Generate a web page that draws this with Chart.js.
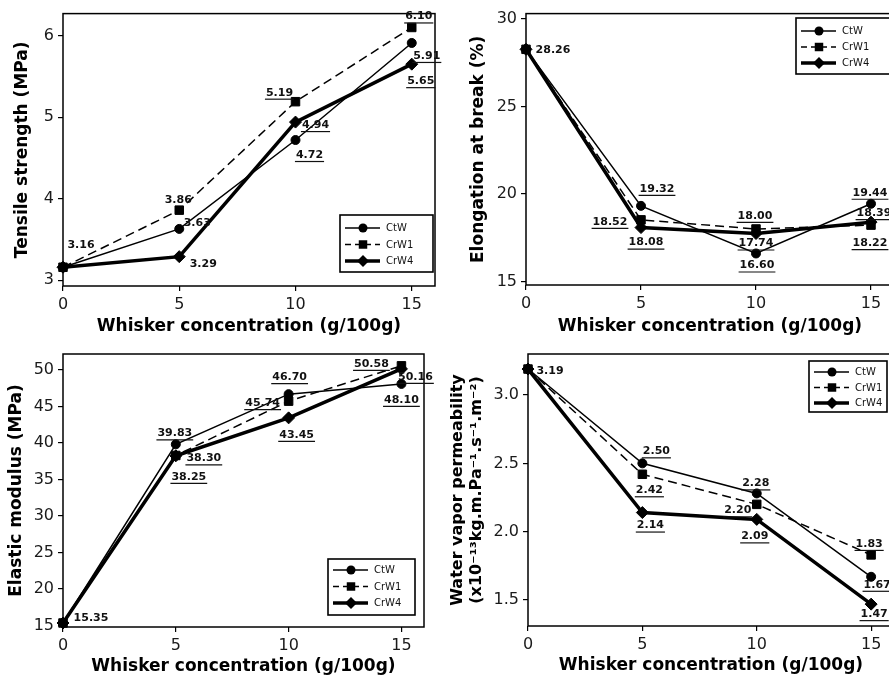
<!DOCTYPE html>
<html>
<head>
<meta charset="utf-8">
<script src="https://cdn.jsdelivr.net/npm/chart.js@4.4.1/dist/chart.umd.min.js"></script>
<style>
  body { margin: 0; width: 889px; height: 678px; overflow: hidden; background: #fff; position: relative; }
  canvas { position: absolute; }
</style>
</head>
<body>
<canvas id="tensile" width="445" height="340" style="left:0;top:0"></canvas>
<canvas id="elong" width="460" height="340" style="left:445px;top:0"></canvas>
<canvas id="modulus" width="445" height="338" style="left:0;top:340px"></canvas>
<canvas id="wvp" width="460" height="338" style="left:445px;top:340px"></canvas>
<script>
// whisker concentration (g/100g)
const conc = [0, 5, 10, 15]
const names = ['CtW', 'CrW1', 'CrW4']

const tensileCtW = [3.16, 3.63, 4.72, 5.91]
const tensileCrW1 = [3.16, 3.86, 5.19, 6.10]
const tensileCrW4 = [3.16, 3.29, 4.94, 5.65]

const elongCtW = [28.26, 19.32, 16.60, 19.44]
const elongCrW1 = [28.26, 18.52, 18.00, 18.22]
const elongCrW4 = [28.26, 18.08, 17.74, 18.39]

const modulusCtW = [15.35, 39.83, 46.70, 48.10]
const modulusCrW1 = [15.35, 38.30, 45.74, 50.58]
const modulusCrW4 = [15.35, 38.25, 43.45, 50.16]

const wvpCtW = [3.19, 2.50, 2.28, 1.67]
const wvpCrW1 = [3.19, 2.42, 2.20, 1.83]
const wvpCrW4 = [3.19, 2.14, 2.09, 1.47]

const xTicks = [0, 5, 10, 15]
const tensileTicks = [3, 4, 5, 6]
const elongTicks = [15, 20, 25, 30]
const modulusTicks = [15, 20, 25, 30, 35, 40, 45, 50]
const wvpTicks = [1.5, 2.0, 2.5, 3.0]

Chart.defaults.font.family = '"DejaVu Sans", Verdana, sans-serif'
Chart.defaults.color = '#1a1a1a'

const pts = ys => ys.map((y, i) => ({x: conc[i], y: y}))

function seriesSets(a, b, c) {
    const common = {borderColor: '#000', backgroundColor: '#000', pointBackgroundColor: '#000',
        pointBorderColor: '#000', pointBorderWidth: 1, tension: 0, clip: false}
    return [
        {...common, label: names[0], data: pts(a), borderWidth: 1.5, pointStyle: 'circle', pointRadius: 4.5},
        {...common, label: names[1], data: pts(b), borderWidth: 1.5, borderDash: [9, 5], pointStyle: 'rect', pointRadius: 6},
        {...common, label: names[2], data: pts(c), borderWidth: 3.5, pointStyle: 'rectRot', pointRadius: 6},
    ]
}

// box round the plot area
const frame = {
    id: 'frame',
    beforeDatasetsDraw(chart) {
        const {ctx, chartArea: a} = chart
        ctx.save()
        ctx.strokeStyle = '#000'
        ctx.lineWidth = 1.5
        ctx.strokeRect(a.left, a.top, a.right - a.left, a.bottom - a.top)
        ctx.restore()
    }
}

// bold value labels next to the points, some underlined
const valueLabels = {
    id: 'valueLabels',
    afterDatasetsDraw(chart, args, opts) {
        const ctx = chart.ctx
        ctx.save()
        ctx.font = 'bold 11px "DejaVu Sans"'
        ctx.fillStyle = '#111'
        ctx.strokeStyle = '#111'
        ctx.textAlign = 'center'
        ctx.textBaseline = 'middle'
        ctx.lineWidth = 1.2
        for (const [di, pi, dx, dy, under] of opts.items) {
            const pt = chart.getDatasetMeta(di).data[pi]
            const txt = chart.data.datasets[di].data[pi].y.toFixed(2)
            const x = pt.x + dx, y = pt.y + dy
            ctx.fillText(txt, x, y)
            if (under) {
                const w = ctx.measureText(txt).width
                ctx.beginPath()
                ctx.moveTo(x - w / 2 - 1, y + 6.5)
                ctx.lineTo(x + w / 2 + 1, y + 6.5)
                ctx.stroke()
            }
        }
        ctx.restore()
    }
}

function marker(ctx, style, r, x, y) {
    ctx.beginPath()
    if (style === 'circle') {
        ctx.arc(x, y, r, 0, Math.PI * 2)
    } else if (style === 'rect') {
        const s = r * Math.SQRT1_2
        ctx.rect(x - s, y - s, 2 * s, 2 * s)
    } else {
        ctx.moveTo(x, y - r); ctx.lineTo(x + r, y); ctx.lineTo(x, y + r); ctx.lineTo(x - r, y); ctx.closePath()
    }
    ctx.fill()
}

// legend in a box with line + marker samples
const boxLegend = {
    id: 'boxLegend',
    afterDraw(chart, args, o) {
        const ctx = chart.ctx
        ctx.save()
        ctx.strokeStyle = '#000'
        ctx.fillStyle = '#000'
        ctx.lineWidth = 1.6
        ctx.strokeRect(o.x, o.y, o.w, o.h)
        ctx.font = '10px "DejaVu Sans"'
        ctx.textBaseline = 'middle'
        chart.data.datasets.forEach((ds, i) => {
            const y = o.y + o.first + i * o.gap
            const x0 = o.x + 5, x1 = o.x + 40
            ctx.save()
            ctx.lineWidth = ds.borderWidth
            ctx.setLineDash(ds.borderDash ? [6, 4] : [])
            ctx.beginPath(); ctx.moveTo(x0, y); ctx.lineTo(x1, y); ctx.stroke()
            ctx.restore()
            marker(ctx, ds.pointStyle, ds.pointRadius, o.x + 23, y)
            ctx.fillStyle = '#111'
            ctx.fillText(ds.label, o.x + 46, y + 0.5)
            ctx.fillStyle = '#000'
        })
        ctx.restore()
    }
}

function panel(id, sets, p) {
    const tickGrid = {drawOnChartArea: false, tickLength: 5, color: '#000', lineWidth: 1.2}
    new Chart(document.getElementById(id), {
        type: 'line',
        data: {datasets: sets},
        options: {
            responsive: false, animation: false, devicePixelRatio: 1,
            layout: {padding: {left: 0, top: p.top, right: p.right, bottom: 0}},
            scales: {
                x: {
                    type: 'linear', min: 0, max: 16,
                    afterBuildTicks: s => { s.ticks = xTicks.map(v => ({value: v})) },
                    afterFit: s => { s.height = p.xHeight },
                    grid: tickGrid,
                    border: {display: false},
                    ticks: {font: {size: 16}, padding: 4},
                    title: {display: true, text: 'Whisker concentration (g/100g)', color: '#000',
                        font: {size: 17, weight: 'bold'}, padding: {top: 0, bottom: p.xTitlePad}}
                },
                y: {
                    type: 'linear', min: p.min, max: p.max,
                    afterBuildTicks: s => { s.ticks = p.ticks.map(v => ({value: v})) },
                    afterFit: s => { s.width = p.yWidth },
                    grid: tickGrid,
                    border: {display: false},
                    ticks: {font: {size: 16}, padding: 4, callback: v => p.decimals ? v.toFixed(p.decimals) : String(v)},
                    title: {display: true, text: p.title, color: '#000',
                        font: {size: p.titleSize, weight: 'bold'}, padding: {top: p.yTitlePad, bottom: 0}}
                }
            },
            plugins: {
                legend: {display: false},
                tooltip: {enabled: false},
                valueLabels: {items: p.labels},
                boxLegend: p.legend
            }
        },
        plugins: [frame, valueLabels, boxLegend]
    })
}

panel('tensile', seriesSets(tensileCtW, tensileCrW1, tensileCrW4), {
    top: 12, right: 10, xHeight: 54, yWidth: 63, min: 2.93, max: 6.27, ticks: tensileTicks,
    title: 'Tensile strength (MPa)', titleSize: 17, yTitlePad: 12, xTitlePad: 3,
    legend: {x: 340, y: 215, w: 93, h: 57, first: 13, gap: 16.5},
    labels: [
        [0, 0, 18, -22, false], [1, 1, -1, -10, false], [0, 1, 18, -6, false], [2, 1, 24, 8, false],
        [1, 2, -16, -9, true], [2, 2, 20, 3, true], [0, 2, 14, 15, true],
        [1, 3, 7, -11, true], [0, 3, 15, 13, true], [2, 3, 9, 17, true]
    ]
})

panel('elong', seriesSets(elongCtW, elongCrW1, elongCrW4), {
    top: 12, right: 11, xHeight: 55, yWidth: 81, min: 14.8, max: 30.3, ticks: elongTicks,
    title: 'Elongation at break (%)', titleSize: 17, yTitlePad: 23, xTitlePad: 3,
    legend: {x: 351, y: 18, w: 94, h: 56, first: 13, gap: 16},
    labels: [
        [0, 0, 27, 1, false], [0, 1, 16, -17, true], [1, 1, -31, 2, true], [2, 1, 5, 15, true],
        [1, 2, -1, -13, true], [2, 2, 0, 10, true], [0, 2, 1, 12, true],
        [0, 3, -1, -11, true], [2, 3, 3, -9, true], [1, 3, -1, 18, true]
    ]
})

panel('modulus', seriesSets(modulusCtW, modulusCrW1, modulusCrW4), {
    top: 14, right: 21, xHeight: 51, yWidth: 63, min: 14.8, max: 52.2, ticks: modulusTicks,
    title: 'Elastic modulus (MPa)', titleSize: 17, yTitlePad: 6, xTitlePad: 1,
    legend: {x: 328, y: 219, w: 87, h: 56, first: 11, gap: 16.5},
    labels: [
        [0, 0, 28, -5, false], [0, 1, -1, -11, true], [1, 1, 28, 3, true], [2, 1, 13, 21, true],
        [0, 2, 1, -17, true], [1, 2, -26, 2, true], [2, 2, 8, 17, true],
        [1, 3, -30, -2, true], [2, 3, 14, 8, true], [0, 3, 0, 16, true]
    ]
})

panel('wvp', seriesSets(wvpCtW, wvpCrW1, wvpCrW4), {
    top: 14, right: 11, xHeight: 52, yWidth: 83, min: 1.31, max: 3.30, ticks: wvpTicks, decimals: 1,
    title: ['Water vapor permeability', '(x10\u207B\u00B9\u00B3kg.m.Pa\u207B\u00B9.s\u207B\u00B9.m\u207B\u00B2)'],
    titleSize: 16, yTitlePad: 3, xTitlePad: 2,
    legend: {x: 364, y: 21, w: 78, h: 51, first: 11, gap: 15.5},
    labels: [
        [0, 0, 22, 2, false], [0, 1, 14, -12, true], [1, 1, 7, 16, true], [2, 1, 8, 13, true],
        [0, 2, -1, -10, true], [1, 2, -19, 6, true], [2, 2, -2, 17, true],
        [1, 3, -2, -11, true], [0, 3, 6, 8, true], [2, 3, 3, 10, true]
    ]
})
</script>
</body>
</html>
